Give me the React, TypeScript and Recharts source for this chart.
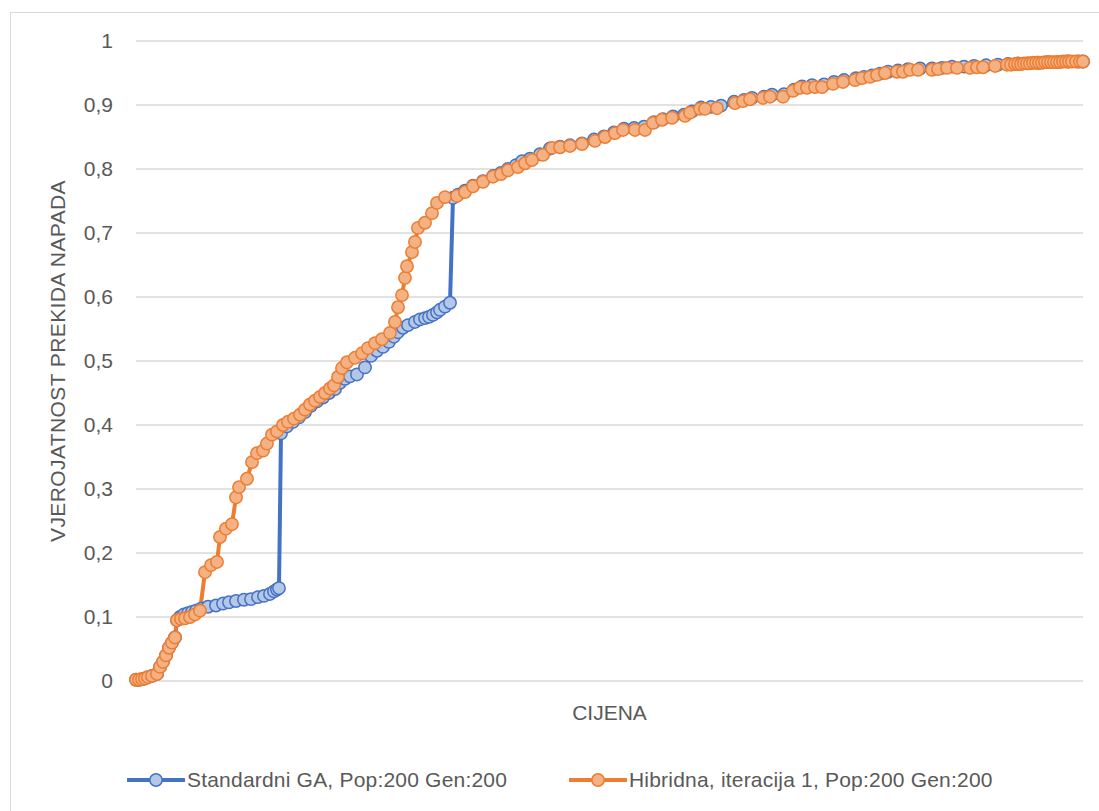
import React from "react";
import {
  LineChart,
  Line,
  XAxis,
  YAxis,
  CartesianGrid,
  Legend,
} from "recharts";

const FONT = "'Liberation Sans', Arial, sans-serif";
const TEXT = "#595959";

const STANDARD_NAME = "Standardni GA, Pop:200 Gen:200";
const HYBRID_NAME = "Hibridna, iteracija 1, Pop:200 Gen:200";

const yTicks = [0, 0.1, 0.2, 0.3, 0.4, 0.5, 0.6, 0.7, 0.8, 0.9, 1];

// Standardni GA
const standardCost = [
  0, 3, 6, 9, 12, 16, 21, 24, 27, 30, 33, 36, 39, 41, 44, 48, 52, 56, 60, 65,
  72, 80, 87, 93, 100, 108, 115, 122, 128, 134, 138, 141, 143, 145, 151, 157,
  163, 169, 175, 181, 187, 193, 199, 204, 209, 214, 221, 229, 235, 241, 247,
  253, 258, 262, 267, 272, 279, 284, 289, 293, 297, 301, 304, 309, 314, 317,
  322, 329, 337, 347, 357, 365, 372, 380, 386, 394, 404, 414, 424, 434, 446,
  458, 468, 478, 488, 498, 508, 518, 527, 537, 548, 556, 565, 575, 585, 598,
  608, 616, 628, 636, 648, 658, 666, 676, 688, 698, 708, 720, 728, 736, 744,
  752, 762, 772, 784, 796, 806, 816, 828, 838, 850, 862, 872, 882, 892, 902,
  912, 922, 932, 942, 947,
];
const standardProb = [
  0.002, 0.002, 0.003, 0.004, 0.006, 0.008, 0.011, 0.022, 0.03, 0.04, 0.052,
  0.06, 0.068, 0.095, 0.1, 0.104, 0.106, 0.108, 0.11, 0.113, 0.116, 0.118,
  0.121, 0.123, 0.125, 0.127, 0.128, 0.131, 0.133, 0.136, 0.14, 0.143, 0.145,
  0.387, 0.398, 0.405, 0.412, 0.42, 0.43, 0.437, 0.443, 0.45, 0.456, 0.466,
  0.472, 0.476, 0.479, 0.49, 0.508, 0.516, 0.522, 0.53, 0.538, 0.545, 0.552,
  0.556, 0.561, 0.565, 0.567, 0.569, 0.572, 0.576, 0.58, 0.585, 0.591, 0.755,
  0.76, 0.766, 0.774, 0.781, 0.789, 0.794, 0.8, 0.806, 0.812, 0.816, 0.823,
  0.832, 0.835, 0.837, 0.84, 0.846, 0.851, 0.857, 0.863, 0.864, 0.866, 0.873,
  0.878, 0.882, 0.885, 0.89, 0.896, 0.897, 0.899, 0.905, 0.908, 0.911, 0.913,
  0.916, 0.917, 0.924, 0.929, 0.931, 0.932, 0.936, 0.939, 0.942, 0.944, 0.946,
  0.949, 0.952, 0.954, 0.956, 0.957, 0.957, 0.958, 0.96, 0.96, 0.961, 0.962,
  0.963, 0.964, 0.965, 0.965, 0.966, 0.967, 0.967, 0.968, 0.968, 0.968,
];

// Hibridna, iteracija 1
const hybridCost = [
  0, 3, 6, 9, 12, 16, 21, 24, 27, 30, 33, 36, 39, 41, 45, 49, 54, 59, 64, 69,
  75, 81, 84, 90, 96, 100, 103, 111, 116, 121, 127, 131, 136, 141, 147, 152,
  158, 164, 169, 174, 179, 184, 189, 194, 198, 202, 206, 211, 219, 226, 232,
  239, 246, 254, 259, 262, 266, 269, 271, 276, 279, 282, 289, 296, 301, 309,
  321, 329, 337, 347, 357, 365, 372, 382, 389, 396, 407, 416, 424, 434, 446,
  459, 469, 479, 487, 499, 509, 517, 526, 536, 549, 554, 564, 569, 581, 599,
  607, 614, 627, 634, 647, 657, 664, 671, 679, 686, 697, 707, 719, 726, 734,
  741, 749, 761, 767, 774, 782, 796, 802, 811, 821, 834, 841, 847, 859, 871,
  875, 879, 882, 885, 888, 891, 894, 897, 900, 903, 906, 909, 912, 915, 918,
  921, 924, 927, 930, 933, 936, 940, 944, 947,
];
const hybridProb = [
  0.002, 0.002, 0.003, 0.004, 0.006, 0.008, 0.011, 0.022, 0.03, 0.04, 0.052,
  0.06, 0.068, 0.095, 0.097, 0.098, 0.1, 0.104, 0.11, 0.17, 0.181, 0.186,
  0.225, 0.238, 0.245, 0.287, 0.303, 0.316, 0.342, 0.356, 0.36, 0.371, 0.385,
  0.39, 0.4, 0.405, 0.41, 0.416, 0.424, 0.432, 0.438, 0.444, 0.45, 0.457,
  0.462, 0.475, 0.489, 0.498, 0.505, 0.512, 0.52, 0.528, 0.534, 0.544, 0.561,
  0.584, 0.603, 0.63, 0.648, 0.67, 0.686, 0.708, 0.716, 0.731, 0.747, 0.756,
  0.758, 0.764, 0.773, 0.78, 0.788, 0.792, 0.798, 0.803, 0.809, 0.814, 0.822,
  0.833, 0.834, 0.836, 0.839, 0.844, 0.85, 0.856, 0.861, 0.861, 0.861, 0.872,
  0.877, 0.88, 0.883, 0.888, 0.894, 0.894, 0.895, 0.903, 0.906, 0.909, 0.911,
  0.913, 0.913, 0.922, 0.927, 0.927, 0.928, 0.928, 0.933, 0.936, 0.939, 0.942,
  0.944, 0.947, 0.95, 0.952, 0.952, 0.955, 0.955, 0.955, 0.956, 0.958, 0.958,
  0.958, 0.959, 0.959, 0.961, 0.963, 0.963, 0.964, 0.964, 0.964, 0.965, 0.965,
  0.965, 0.966, 0.966, 0.966, 0.966, 0.967, 0.967, 0.967, 0.967, 0.967, 0.967,
  0.968, 0.968, 0.968, 0.968, 0.968, 0.968, 0.968,
];

const standardData = standardCost.map((c, i) => ({ cost: c, prob: standardProb[i] }));
const hybridData = hybridCost.map((c, i) => ({ cost: c, prob: hybridProb[i] }));

const series = [
  { name: STANDARD_NAME, data: standardData, stroke: "#4472C4", fill: "#B4C7E7", legendX: 127 },
  { name: HYBRID_NAME, data: hybridData, stroke: "#ED7D31", fill: "#F4B183", legendX: 569 },
];

const DOT_R = 6.2;

const makeDot = (stroke: string, fill: string) => (props: any) => {
  const { cx, cy, index } = props;
  if (cx == null || cy == null) return <g key={index} />;
  return (
    <circle key={index} cx={cx} cy={cy} r={DOT_R} fill={fill} stroke={stroke} strokeWidth={1.5} />
  );
};

const renderLegend = () => (
  <div style={{ position: "relative", width: 1099, height: 26, fontFamily: FONT }}>
    {series.map((s) => (
      <div
        key={s.name}
        style={{
          position: "absolute",
          left: s.legendX,
          top: 0,
          display: "flex",
          alignItems: "center",
          height: 26,
          whiteSpace: "nowrap",
        }}
      >
        <svg width={58} height={16} style={{ marginRight: 2 }}>
          <line x1={1} y1={8} x2={57} y2={8} stroke={s.stroke} strokeWidth={4} strokeLinecap="round" />
          <circle cx={29} cy={8} r={DOT_R} fill={s.fill} stroke={s.stroke} strokeWidth={1.5} />
        </svg>
        <span style={{ fontSize: 21, color: TEXT, letterSpacing: 0.2 }}>{s.name}</span>
      </div>
    ))}
  </div>
);

const App: React.FC = () => {
  return (
    <div
      style={{
        position: "fixed",
        left: 0,
        top: 0,
        width: 1099,
        height: 811,
        overflow: "hidden",
        background: "#fff",
      }}
    >
      {/* chart frame, cut off at the right and bottom like the screenshot */}
      <div
        style={{
          position: "absolute",
          left: 10,
          top: 12,
          width: 1200,
          height: 900,
          border: "1.5px solid #D9D9D9",
        }}
      />
      <div style={{ position: "absolute", left: 0, top: 0 }}>
        <LineChart
          width={1099}
          height={811}
          margin={{ top: 41, right: 16, left: 56, bottom: 85 }}
          style={{ fontFamily: FONT }}
        >
          <CartesianGrid vertical={false} stroke="#D9D9D9" strokeWidth={1.5} />
          <XAxis
            dataKey="cost"
            type="number"
            domain={["dataMin", "dataMax"]}
            height={45}
            tick={false}
            tickLine={false}
            axisLine={false}
            label={{
              content: ({ viewBox }: any) => (
                <text
                  x={viewBox.x + viewBox.width / 2}
                  y={viewBox.y + 31}
                  textAnchor="middle"
                  dominantBaseline="central"
                  fill={TEXT}
                  fontSize={21}
                  fontFamily={FONT}
                >
                  CIJENA
                </text>
              ),
            }}
          />
          <YAxis
            type="number"
            domain={[0, 1]}
            ticks={yTicks}
            width={80}
            tickLine={false}
            axisLine={false}
            tickSize={0}
            tickMargin={23}
            tick={{ fill: TEXT, fontSize: 21, fontFamily: FONT }}
            tickFormatter={(v: number) => String(v).replace(".", ",")}
            label={{
              content: ({ viewBox }: any) => {
                const cx = viewBox.x + 1;
                const cy = viewBox.y + viewBox.height / 2;
                return (
                  <text
                    x={cx}
                    y={cy}
                    transform={`rotate(-90, ${cx}, ${cy})`}
                    textAnchor="middle"
                    dominantBaseline="central"
                    fill={TEXT}
                    fontSize={21}
                    fontFamily={FONT}
                    letterSpacing={0.4}
                  >
                    VJEROJATNOST PREKIDA NAPADA
                  </text>
                );
              },
            }}
          />
          <Legend
            layout="horizontal"
            verticalAlign="middle"
            align="center"
            content={renderLegend}
            wrapperStyle={{ top: 767, left: 0, width: 1099, height: 26 }}
          />
          {series.map((s) => (
            <Line
              key={s.name}
              name={s.name}
              data={s.data}
              dataKey="prob"
              type="linear"
              stroke={s.stroke}
              strokeWidth={4}
              dot={makeDot(s.stroke, s.fill)}
              activeDot={false}
              isAnimationActive={false}
            />
          ))}
        </LineChart>
      </div>
    </div>
  );
};

export default App;
